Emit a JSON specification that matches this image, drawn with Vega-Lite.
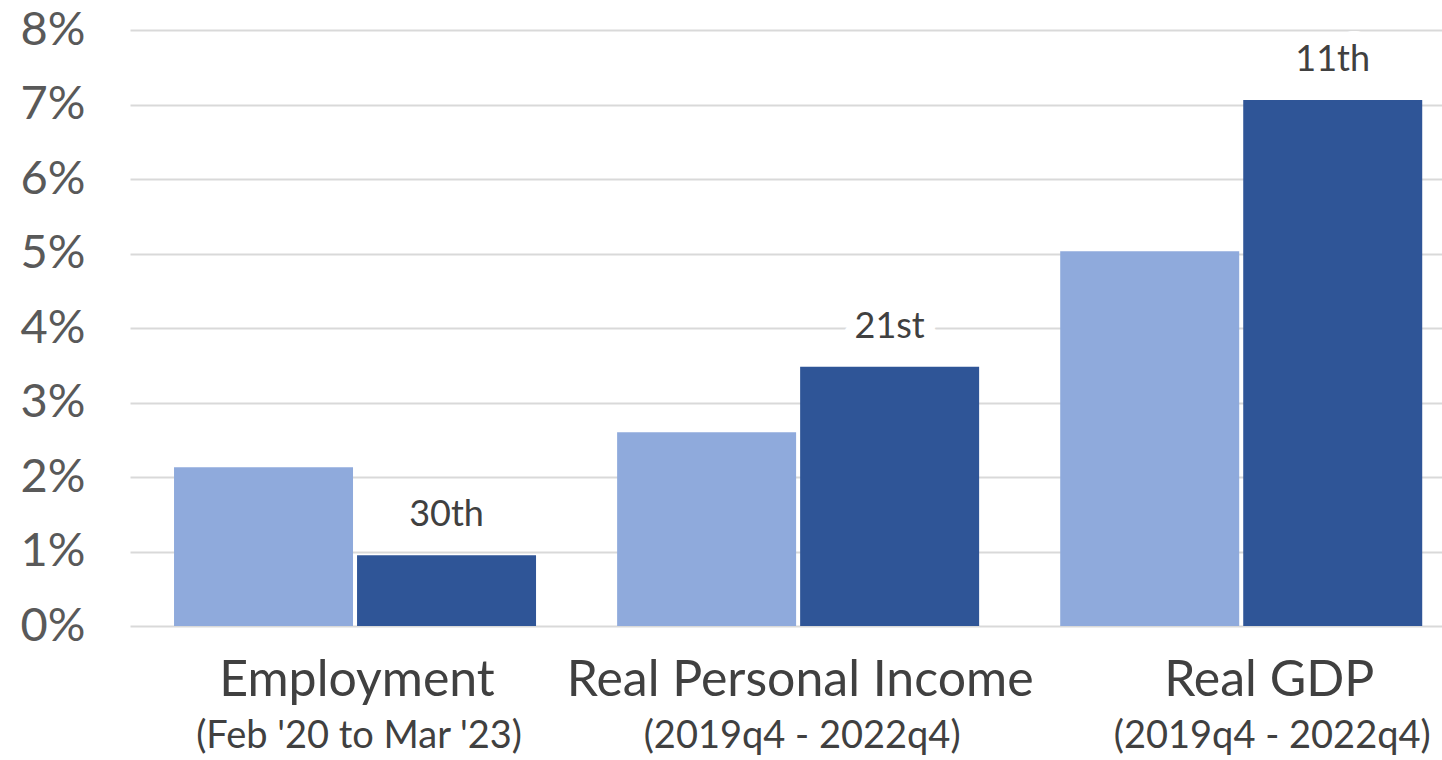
{
  "$schema": "https://vega.github.io/schema/vega-lite/v6.json",
  "autosize": "none",
  "width": 1312,
  "height": 596,
  "padding": {"left": 130, "top": 30, "right": 0, "bottom": 134},
  "background": "white",
  "config": {
    "view": {"stroke": null},
    "font": "Lato"
  },
  "data": {
    "values": [
      {"cat": "Employment", "series": "A", "value": 2.13, "rank": ""},
      {"cat": "Employment", "series": "B", "value": 0.95, "rank": "30th"},
      {"cat": "Real Personal Income", "series": "A", "value": 2.6, "rank": ""},
      {"cat": "Real Personal Income", "series": "B", "value": 3.48, "rank": "21st"},
      {"cat": "Real GDP", "series": "A", "value": 5.03, "rank": ""},
      {"cat": "Real GDP", "series": "B", "value": 7.06, "rank": "11th"}
    ]
  },
  "encoding": {
    "x": {
      "field": "cat",
      "type": "nominal",
      "sort": ["Employment", "Real Personal Income", "Real GDP"],
      "scale": {"paddingInner": 0.183, "paddingOuter": 0.072, "align": 0.69},
      "axis": null
    }
  },
  "layer": [
    {
      "mark": {"type": "bar"},
      "encoding": {
        "x": {
          "field": "cat",
          "type": "nominal",
          "sort": ["Employment", "Real Personal Income", "Real GDP"],
          "axis": {
            "orient": "bottom",
            "title": null,
            "domain": false,
            "ticks": false,
            "labelAngle": 0,
            "labelLimit": 0,
            "labelFontSize": 50,
            "labelColor": "#404040",
            "labelPadding": 29,
            "labelBaseline": "top",
            "labelOffset": {"condition": {"test": "datum.value == 'Real GDP'", "value": 28}, "value": 2}
          }
        },
        "xOffset": {"field": "series", "type": "nominal", "scale": {"paddingInner": 0.022}},
        "y": {
          "field": "value",
          "type": "quantitative",
          "scale": {"domain": [0, 8]},
          "axis": {
            "title": null,
            "domain": false,
            "ticks": false,
            "values": [0, 1, 2, 3, 4, 5, 6, 7, 8],
            "labelExpr": "datum.value + '%'",
            "labelFontSize": 47,
            "labelColor": "#595959",
            "labelPadding": 45,
            "gridColor": "#D9D9D9",
            "gridWidth": 2
          }
        },
        "color": {
          "field": "series",
          "type": "nominal",
          "scale": {"domain": ["A", "B"], "range": ["#8FAADC", "#2F5597"]},
          "legend": null
        }
      }
    },
    {
      "mark": {"type": "rule", "opacity": 0},
      "encoding": {
        "x": {
          "field": "cat",
          "type": "nominal",
          "sort": ["Employment", "Real Personal Income", "Real GDP"],
          "axis": {
            "orient": "bottom",
            "title": null,
            "domain": false,
            "ticks": false,
            "grid": false,
            "labelAngle": 0,
            "labelLimit": 0,
            "labelFontSize": 38,
            "labelColor": "#404040",
            "labelPadding": 91,
            "labelBaseline": "top",
            "labelOffset": {"condition": {"test": "datum.value == 'Real GDP'", "value": 31}, "value": 4},
            "labelExpr": "datum.value == 'Employment' ? \"(Feb '20 to Mar '23)\" : '(2019q4 - 2022q4)'"
          }
        }
      }
    },
    {
      "transform": [{"filter": "datum.rank != ''"}],
      "mark": {"type": "text", "fontSize": 36, "dy": -40, "baseline": "middle", "stroke": "white", "strokeWidth": 26, "strokeJoin": "round", "fill": "white"},
      "encoding": {
        "x": {"field": "cat", "type": "nominal", "sort": ["Employment", "Real Personal Income", "Real GDP"], "axis": null},
        "xOffset": {"field": "series", "type": "nominal", "scale": {"paddingInner": 0.022}},
        "y": {"field": "value", "type": "quantitative"},
        "text": {"field": "rank"}
      }
    },
    {
      "transform": [{"filter": "datum.rank != ''"}],
      "mark": {"type": "text", "fontSize": 36, "dy": -40, "baseline": "middle", "color": "#404040"},
      "encoding": {
        "x": {"field": "cat", "type": "nominal", "sort": ["Employment", "Real Personal Income", "Real GDP"], "axis": null},
        "xOffset": {"field": "series", "type": "nominal", "scale": {"paddingInner": 0.022}},
        "y": {"field": "value", "type": "quantitative"},
        "text": {"field": "rank"}
      }
    }
  ],
  "resolve": {"axis": {"x": "independent"}}
}
